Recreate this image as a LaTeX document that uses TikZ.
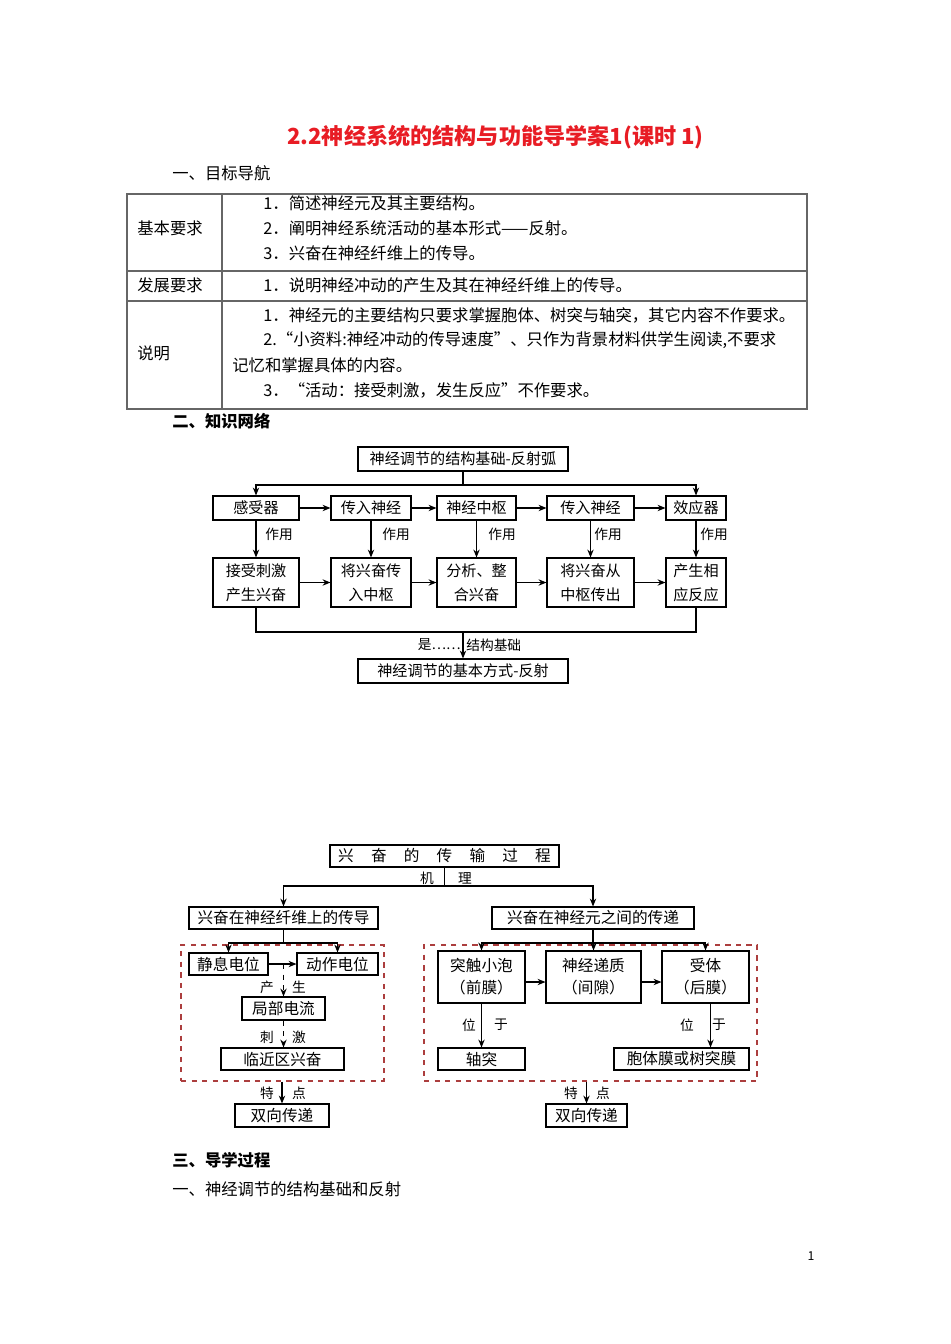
\documentclass[tikz,border=0pt]{standalone}
\usepackage{fontspec}
\setmainfont{Noto Sans CJK SC}
\usetikzlibrary{arrows.meta}
\definecolor{titlered}{RGB}{232,28,36}
\definecolor{framered}{RGB}{172,62,62}
\newcommand\txtbody{\fontsize{9.3}{12}\selectfont}
\newcommand\txtboxa{\fontsize{8.6}{13.6}\selectfont}
\newcommand\txtboxb{\fontsize{8.9}{12.5}\selectfont}
\newcommand\txtlab{\fontsize{7.8}{9}\selectfont}
\newcommand\gapch{\hspace{1.1em}}
\begin{document}
\begin{tikzpicture}[x=0.02cm,y=-0.02cm,
  wh/.style 2 args={minimum width=#1*0.02cm, minimum height=#2*0.02cm},
  box/.style={draw, line width=0.6pt, inner sep=0pt, align=center},
  boxa/.style={box, font=\txtboxa},
  boxb/.style={box, font=\txtboxb},
  lab/.style={inner sep=0pt, font=\txtlab},
  body/.style={inner sep=0pt, anchor=west, font=\txtbody},
  head/.style={body, font=\txtbody\bfseries},
  arr/.style={line width=0.6pt, -{Stealth[length=4.5pt,width=3.6pt]}},
  link/.style={line width=0.6pt},
  tline/.style={black!60, line width=0.6pt},
  redframe/.style={draw=framered, dashed, line width=0.7pt, inner sep=0pt}]
\useasboundingbox (0,0) rectangle (950,1344);

% title and goals table
\node[inner sep=0pt, text=titlered, font=\fontsize{12.6}{15}\selectfont\bfseries] (title) at (495.5,137) {2.2神经系统的结构与功能导学案1(课时 1)};
\node[body] (goal) at (172,173) {一、目标导航};
\draw[tline] (127,194) rectangle (807,409);
\draw[tline] (127,271) -- (807,271);
\draw[tline] (127,301) -- (807,301);
\draw[tline] (222,194) -- (222,409);
\node[body] (basic) at (137,228) {基本要求};
\node[body] (devel) at (137,285) {发展要求};
\node[body] (note) at (137,353) {说明};
\node[body] (b1) at (263,203) {1．简述神经元及其主要结构。};
\node[body] (b2) at (263,228) {2．阐明神经系统活动的基本形式——反射。};
\node[body] (b3) at (263,253) {3．兴奋在神经纤维上的传导。};
\node[body] (d1) at (263,285) {1．说明神经冲动的产生及其在神经纤维上的传导。};
\node[body] (n1) at (263,315) {1．神经元的主要结构只要求掌握胞体、树突与轴突，其它内容不作要求。};
\node[body] (n2) at (263,340) {2.“小资料:神经冲动的传导速度”、只作为背景材料供学生阅读,不要求};
\node[body] (n3) at (232,365) {记忆和掌握具体的内容。};
\node[body] (n4) at (263,390) {3．“活动：接受刺激，发生反应”不作要求。};
\node[head] (net) at (172,421) {二、知识网络};

% reflex arc
\node[boxa, wh={210}{24}] (arc) at (463,459) {神经调节的结构基础-反射弧};
\node[boxa, wh={86}{24}] (sens) at (256,508) {感受器};
\node[boxa, wh={80}{24}] (aff) at (371,508) {传入神经};
\node[boxa, wh={79}{24}] (cen) at (476.5,508) {神经中枢};
\node[boxa, wh={87}{24}] (eff) at (590.5,508) {传入神经};
\node[boxa, wh={60}{24}] (act) at (696,508) {效应器};
\node[boxa, wh={86}{49}] (recv) at (256,582.5) {接受刺激\\产生兴奋};
\node[boxa, wh={80}{49}] (pass) at (371,582.5) {将兴奋传\\入中枢};
\node[boxa, wh={79}{49}] (anal) at (476.5,582.5) {分析、整\\合兴奋};
\node[boxa, wh={87}{49}] (send) at (590.5,582.5) {将兴奋从\\中枢传出};
\node[boxa, wh={60}{49}] (resp) at (696,582.5) {产生相\\应反应};
\node[boxa, wh={210}{24}] (mode) at (463,671) {神经调节的基本方式-反射};
\coordinate (j1) at (463,485);
\coordinate (j2) at (463,632);
\draw[link] (arc) -- (j1);
\draw[arr] (j1) -| (sens);
\draw[arr] (j1) -| (act);
\draw[arr] (sens) -- (aff);
\draw[arr] (aff) -- (cen);
\draw[arr] (cen) -- (eff);
\draw[arr] (eff) -- (act);
\draw[arr] (recv) -- (pass);
\draw[arr] (pass) -- (anal);
\draw[arr] (anal) -- (send);
\draw[arr] (send) -- (resp);
\draw[arr] (sens) -- (recv);
\draw[arr] (aff) -- (pass);
\draw[arr] (cen) -- (anal);
\draw[arr] (eff) -- (send);
\draw[arr] (act) -- (resp);
\node[lab, anchor=west] (u1) at (265,534) {作用};
\node[lab, anchor=west] (u2) at (382,534) {作用};
\node[lab, anchor=west] (u3) at (488,534) {作用};
\node[lab, anchor=west] (u4) at (594,534) {作用};
\node[lab, anchor=west] (u5) at (700,534) {作用};
\draw[link] (recv) |- (j2);
\draw[link] (resp) |- (j2);
\draw[arr] (j2) -- (mode);
\node[lab, anchor=east] (is) at (461,645) {是……};
\node[lab, anchor=west] (base) at (466,645) {结构基础};

% transmission of excitation
\node[boxb, wh={229}{22}] (proc) at (444.5,856) {兴\gapch 奋\gapch 的\gapch 传\gapch 输\gapch 过\gapch 程};
\node[boxb, wh={189}{22}] (fiber) at (283.5,918) {兴奋在神经纤维上的传导};
\node[boxb, wh={202}{22}] (syn) at (593,918) {兴奋在神经元之间的传递};
\node[lab] (m1) at (427,878) {机};
\node[lab] (m2) at (465,878) {理};
\coordinate (k1) at (444.5,886);
\draw[link] (proc) -- (k1);
\draw[arr] (k1) -| (fiber);
\draw[arr] (k1) -| (syn);

\node[redframe, wh={203}{136}] (lfr) at (282.5,1013) {};
\node[redframe, wh={333}{136}] (rfr) at (590.5,1013) {};

\node[boxb, wh={79}{22}] (rest) at (228.5,964) {静息电位};
\node[boxb, wh={81}{22}] (actp) at (337.5,964) {动作电位};
\node[boxb, wh={83}{23}] (loc) at (283.5,1008.5) {局部电流};
\node[boxb, wh={123}{22}] (near) at (282.5,1059) {临近区兴奋};
\node[boxb, wh={94}{23}] (bia) at (282,1115.5) {双向传递};
\coordinate (k2) at (283.5,943);
\draw[link] (fiber) -- (k2);
\draw[arr] (k2) -| (rest);
\draw[arr] (k2) -| (actp);
\draw[arr] (rest) -- (actp);
\draw[arr, dashed] (loc |- rest) -- (loc);
\draw[arr, dashed] (loc.south) -- (loc.south |- near.north);
\draw[arr] (lfr.south -| bia) -- (bia);
\node[lab] (p1) at (267,987) {产};
\node[lab] (p2) at (299,987) {生};
\node[lab] (s1) at (267,1037) {刺};
\node[lab] (s2) at (299,1037) {激};
\node[lab] (t1) at (267,1093) {特};
\node[lab] (t2) at (299,1093) {点};

\node[boxb, wh={87}{52}] (ves) at (481.5,977) {突触小泡\\（前膜）};
\node[boxb, wh={95}{52}] (neu) at (593.5,977) {神经递质\\（间隙）};
\node[boxb, wh={87}{52}] (rec) at (705.5,977) {受体\\（后膜）};
\node[boxb, wh={87}{22}] (axon) at (481.5,1059) {轴突};
\node[boxb, wh={135}{22}] (memb) at (681.5,1059) {胞体膜或树突膜};
\node[boxb, wh={81}{23}] (bib) at (586.5,1115.5) {双向传递};
\coordinate (k3) at (593,943);
\draw[link] (syn) -- (k3);
\draw[arr] (k3) -| (ves);
\draw[arr] (k3) -| (neu);
\draw[arr] (k3) -| (rec);
\draw[arr] ([yshift=-0.1cm]ves.east) -- ([yshift=-0.1cm]neu.west);
\draw[arr] ([yshift=-0.1cm]neu.east) -- ([yshift=-0.1cm]rec.west);
\draw[arr] (ves) -- (axon);
\draw[arr] ([xshift=0.1cm]rec.south) -- ([xshift=0.1cm]rec.south |- memb.north);
\draw[arr] (rfr.south -| bib) -- (bib);
\node[lab] (l1) at (469,1025) {位};
\node[lab] (l2) at (501,1025) {于};
\node[lab] (l3) at (687,1025) {位};
\node[lab] (l4) at (719,1025) {于};
\node[lab] (t3) at (571,1093) {特};
\node[lab] (t4) at (603,1093) {点};

% guided learning
\node[head] (guide) at (172,1160) {三、导学过程};
\node[body] (sect) at (172,1189) {一、神经调节的结构基础和反射};
\node[inner sep=0pt, font=\fontsize{7}{8}\selectfont] (page) at (811,1256) {1};
\end{tikzpicture}
\end{document}
